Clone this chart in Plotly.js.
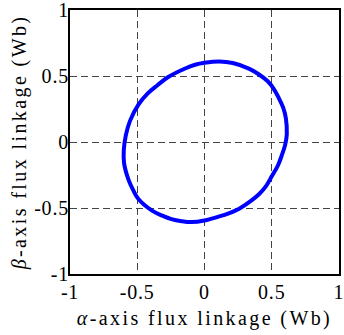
<!DOCTYPE html>
<html>
<head>
<meta charset="utf-8">
<script src="https://cdn.plot.ly/plotly-3.0.1.min.js"></script>
<style>
html,body{margin:0;padding:0;background:#fff;}
#chart{width:344px;height:335px;}
.xtitle, .ytitle {letter-spacing: 2.4px;}
.xtick text, .ytick text {letter-spacing: 0.8px;}
</style>
</head>
<body>
<div id="chart"></div>
<script>
var fluxAlpha = [0.612, 0.605, 0.585, 0.554, 0.510, 0.470, 0.400, 0.330, 0.210, 0.110, 0.000, -0.070, -0.148, -0.270, -0.350, -0.420, -0.490, -0.554, -0.585, -0.600, -0.598, -0.566, -0.530, -0.490, -0.390, -0.310, -0.246, -0.170, -0.098, 0.000, 0.110, 0.180, 0.258, 0.340, 0.405, 0.460, 0.500, 0.545, 0.575, 0.600, 0.612];
var fluxBeta  = [0.060, 0.180, 0.260, 0.330, 0.410, 0.460, 0.515, 0.556, 0.598, 0.610, 0.600, 0.585, 0.555, 0.492, 0.430, 0.370, 0.285, 0.160, 0.050, -0.060, -0.160, -0.283, -0.365, -0.434, -0.520, -0.560, -0.584, -0.600, -0.607, -0.595, -0.564, -0.540, -0.505, -0.450, -0.396, -0.330, -0.260, -0.180, -0.100, -0.020, 0.060];
var tickVals = [-1, -0.5, 0, 0.5, 1];
var tickText = ['-1', '-0.5', '0', '0.5', '1'];

var font = {family: 'Liberation Serif', size: 20, color: '#000'};

var trace = {
  x: fluxAlpha, y: fluxBeta, mode: 'lines', type: 'scatter',
  line: {color: '#0000ff', width: 4, shape: 'spline', smoothing: 1},
  hoverinfo: 'none'
};

var axisCommon = {
  range: [-1, 1], tickvals: tickVals, ticktext: tickText,
  showgrid: true, gridcolor: '#444', griddash: '7px,4px', gridwidth: 1,
  zeroline: false, showline: true, linecolor: '#000', linewidth: 2, mirror: true,
  ticks: '', tickfont: font, ticklabeloverflow: 'allow', automargin: false
};

var layout = {
  width: 344, height: 335,
  margin: {l: 70, r: 5, t: 10, b: 61},
  paper_bgcolor: '#fff', plot_bgcolor: '#fff',
  showlegend: false,
  font: font,
  xaxis: Object.assign({}, axisCommon, {
    ticklabelstandoff: -1,
    title: {text: '<i>α</i>-axis flux linkage (Wb)', font: font, standoff: 9}
  }),
  yaxis: Object.assign({}, axisCommon, {
    ticklabelstandoff: -5,
    title: {text: '<i>β</i>-axis flux linkage (Wb)', font: font, standoff: 2}
  })
};

Plotly.newPlot('chart', [trace], layout, {staticPlot: true, displayModeBar: false});
</script>
</body>
</html>
